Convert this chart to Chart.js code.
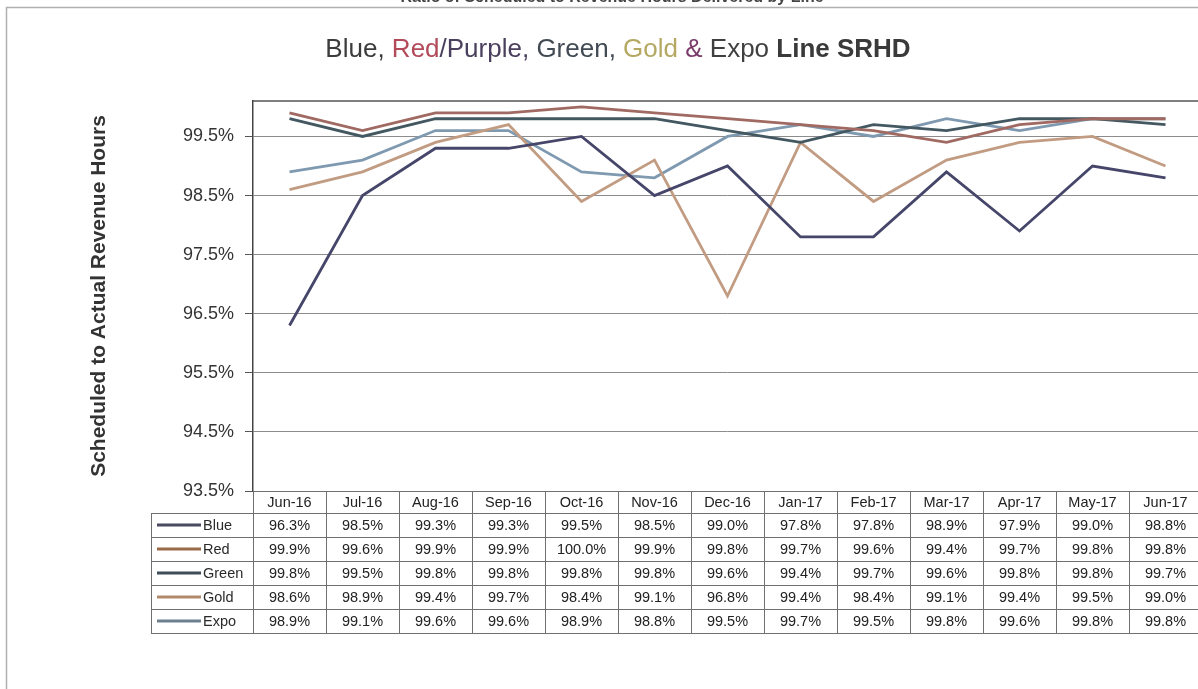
<!DOCTYPE html>
<html>
<head>
<meta charset="utf-8">
<title>Blue, Red/Purple, Green, Gold & Expo Line SRHD</title>
<script src="https://cdn.jsdelivr.net/npm/chart.js@4.4.1/dist/chart.umd.min.js"></script>
<style>
  html, body { margin: 0; padding: 0; background: #fff; overflow: hidden; }
  #wrap { width: 1210px; height: 689px; }
</style>
</head>
<body>
<div id="wrap"><canvas id="c" width="1210" height="689"></canvas></div>
<script>
// Monthly scheduled-to-revenue-hours ratios (%) per rail line
const months = ['Jun-16', 'Jul-16', 'Aug-16', 'Sep-16', 'Oct-16', 'Nov-16', 'Dec-16',
                'Jan-17', 'Feb-17', 'Mar-17', 'Apr-17', 'May-17', 'Jun-17'];
const blueLine  = [96.3, 98.5, 99.3, 99.3, 99.5, 98.5, 99.0, 97.8, 97.8, 98.9, 97.9, 99.0, 98.8];
const redLine   = [99.9, 99.6, 99.9, 99.9, 100.0, 99.9, 99.8, 99.7, 99.6, 99.4, 99.7, 99.8, 99.8];
const greenLine = [99.8, 99.5, 99.8, 99.8, 99.8, 99.8, 99.6, 99.4, 99.7, 99.6, 99.8, 99.8, 99.7];
const goldLine  = [98.6, 98.9, 99.4, 99.7, 98.4, 99.1, 96.8, 99.4, 98.4, 99.1, 99.4, 99.5, 99.0];
const expoLine  = [98.9, 99.1, 99.6, 99.6, 98.9, 98.8, 99.5, 99.7, 99.5, 99.8, 99.6, 99.8, 99.8];
const yTicks = [93.5, 94.5, 95.5, 96.5, 97.5, 98.5, 99.5];

const FONT = "'Liberation Sans', Arial, Helvetica, sans-serif";
Chart.defaults.font.family = FONT;

const series = [
  { label: 'Blue',  data: blueLine,  color: '#46466a', swatch: '#4a4a62' },
  { label: 'Red',   data: redLine,   color: '#a06a62', swatch: '#9a6a48' },
  { label: 'Green', data: greenLine, color: '#435860', swatch: '#3e4d58' },
  { label: 'Gold',  data: goldLine,  color: '#c29c82', swatch: '#b08a6a' },
  { label: 'Expo',  data: expoLine,  color: '#7f9ab0', swatch: '#6d8090' }
];

// Page frame, the cropped heading, and the multi-coloured chart title
const decorPlugin = {
  id: 'decor',
  beforeDraw(chart) {
    const ctx = chart.ctx;
    ctx.save();
    ctx.strokeStyle = '#b0b0b0';
    ctx.lineWidth = 1.5;
    ctx.beginPath();
    ctx.moveTo(6.5, 689);
    ctx.lineTo(6.5, 7.5);
    ctx.lineTo(1210, 7.5);
    ctx.stroke();

    ctx.fillStyle = '#444';
    ctx.font = 'bold 16px ' + FONT;
    ctx.textAlign = 'center';
    ctx.textBaseline = 'alphabetic';
    ctx.fillText('Ratio of Scheduled to Revenue Hours Delivered by Line', 612, 2);

    const parts = [
      ['Blue, ', '#3c3c3c', ''],
      ['Red', '#b24a5a', ''],
      ['/Purple, ', '#4a3f5c', ''],
      ['Green, ', '#424a54', ''],
      ['Gold', '#b4a862', ''],
      [' & ', '#7a3a6a', ''],
      ['Expo ', '#404040', ''],
      ['Line SRHD', '#3a3a3a', 'bold ']
    ];
    ctx.textAlign = 'left';
    let total = 0;
    parts.forEach(p => { ctx.font = p[2] + '26px ' + FONT; total += ctx.measureText(p[0]).width; });
    let x = 618 - total / 2;
    parts.forEach(p => {
      ctx.font = p[2] + '26px ' + FONT;
      ctx.fillStyle = p[1];
      ctx.fillText(p[0], x, 57);
      x += ctx.measureText(p[0]).width;
    });
    ctx.restore();
  },
  afterDraw(chart) {
    const ctx = chart.ctx;
    const area = chart.chartArea;
    const xs = chart.scales.x;
    ctx.save();
    // plot-area top edge
    ctx.strokeStyle = '#555';
    ctx.lineWidth = 1.5;
    ctx.beginPath();
    ctx.moveTo(area.left, area.top);
    ctx.lineTo(area.right, area.top);
    ctx.stroke();

    // data table under the plot
    const half = (xs.getPixelForValue(1) - xs.getPixelForValue(0)) / 2;
    const headTop = area.bottom, headH = 22, rowH = 24;
    const bodyTop = headTop + headH;
    const legendLeft = 151;
    ctx.strokeStyle = '#707070';
    ctx.lineWidth = 1;
    ctx.font = '14.5px ' + FONT;
    ctx.textBaseline = 'middle';

    months.forEach((m, i) => {
      const cx = xs.getPixelForValue(i);
      const l = Math.round(cx - half) + 0.5;
      const w = Math.round(half * 2);
      ctx.strokeRect(l, headTop + 0.5, w, headH);
      ctx.fillStyle = '#222';
      ctx.textAlign = 'center';
      ctx.fillText(m, cx, headTop + headH / 2 + 1);
    });

    series.forEach((s, r) => {
      const top = bodyTop + r * rowH;
      ctx.strokeRect(legendLeft + 0.5, top + 0.5, Math.round(area.left) - legendLeft, rowH);
      ctx.strokeStyle = s.swatch;
      ctx.lineWidth = 3;
      ctx.beginPath();
      ctx.moveTo(157, top + rowH / 2);
      ctx.lineTo(201, top + rowH / 2);
      ctx.stroke();
      ctx.strokeStyle = '#707070';
      ctx.lineWidth = 1;
      ctx.fillStyle = '#2a2a2a';
      ctx.textAlign = 'left';
      ctx.fillText(s.label, 203, top + rowH / 2 + 1);
      s.data.forEach((v, i) => {
        const cx = xs.getPixelForValue(i);
        const l = Math.round(cx - half) + 0.5;
        const w = Math.round(half * 2);
        ctx.strokeRect(l, top + 0.5, w, rowH);
        ctx.fillStyle = '#222';
        ctx.textAlign = 'center';
        ctx.fillText(v.toFixed(1) + '%', cx, top + rowH / 2 + 1);
      });
    });
    ctx.restore();
  }
};

new Chart(document.getElementById('c'), {
  type: 'line',
  data: {
    labels: months,
    datasets: series.map(s => ({
      label: s.label,
      data: s.data,
      borderColor: s.color,
      backgroundColor: s.color,
      borderWidth: 2.8,
      pointRadius: 0,
      tension: 0,
      fill: false
    }))
  },
  options: {
    responsive: false,
    animation: false,
    devicePixelRatio: 1,
    layout: { padding: { top: 101, bottom: 198, left: 0, right: 8 } },
    plugins: { legend: { display: false }, tooltip: { enabled: false }, title: { display: false } },
    scales: {
      x: {
        display: false,
        offset: true,
        grid: { display: false }
      },
      y: {
        min: 93.5,
        max: 100.1,
        afterFit(scale) { scale.width = 253; },
        afterBuildTicks(scale) { scale.ticks = yTicks.map(v => ({ value: v })); },
        ticks: {
          padding: 11,
          color: '#333',
          font: { size: 18 },
          callback: v => Number(v).toFixed(1) + '%'
        },
        grid: { color: '#8c8c8c', lineWidth: 1, tickLength: 8, tickColor: '#555' },
        border: { display: true, color: '#444', width: 1.5 },
        title: {
          display: true,
          text: 'Scheduled to Actual Revenue Hours',
          color: '#333',
          font: { size: 21, weight: 'bold' },
          padding: { top: 87, bottom: 0 }
        }
      }
    }
  },
  plugins: [decorPlugin]
});
</script>
</body>
</html>
